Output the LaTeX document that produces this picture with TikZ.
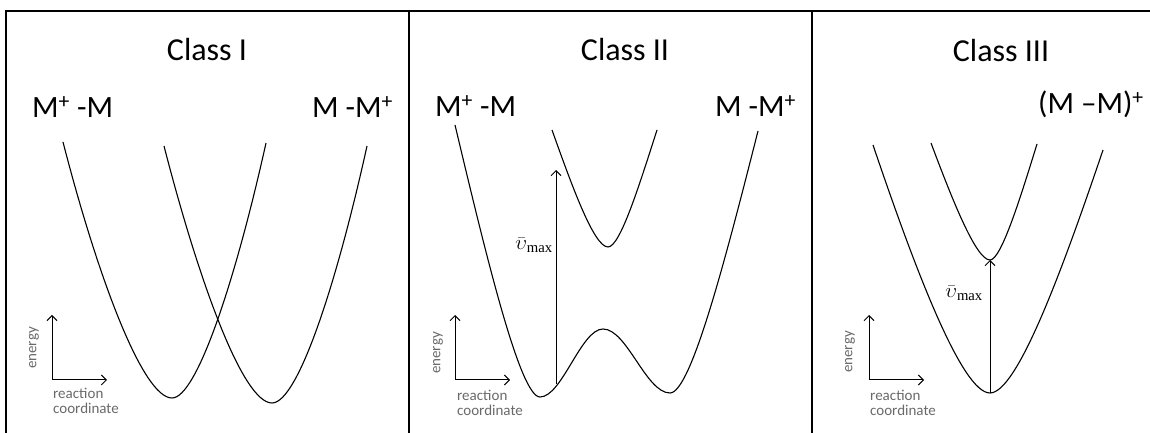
\documentclass[tikz,border=0pt]{standalone}
\usepackage{fontspec}
\setmainfont{Carlito}
\newfontfamily\vserif{Liberation Serif}
\usetikzlibrary{arrows.meta, positioning}
\definecolor{axisgray}{RGB}{105,105,105}

\begin{document}
\begin{tikzpicture}[
      x=1pt, y=1pt,
      title/.style={font=\fontsize{32}{36}\selectfont, anchor=base, inner sep=0pt},
      species/.style={font=\fontsize{31}{36}\selectfont, anchor=base west, inner sep=0pt},
      axlabel/.style={font=\fontsize{15}{15}\selectfont, color=axisgray, align=left, inner sep=0pt},
      vlabel/.style={font=\fontsize{21}{24}\selectfont, anchor=east, inner sep=1pt},
      curve/.style={line width=1.1pt},
      arr/.style={-{Straight Barb[length=5pt, width=10pt]}, line width=1pt},
      frame/.style={line width=1.2pt}
  ]
    \useasboundingbox (0,0) rectangle (1150,433);

    % frame and panel dividers
    \coordinate (tl) at (6,422);
    \coordinate (tr) at (1150,422);
    \draw[frame] (6,0) -- (tl) -- (tr);
    \draw[frame] (409,0) -- (409,422);
    \draw[frame] (812,0) -- (812,422);

    % Class I
    \node[title]   (titleI) at (207,372) {Class I};
    \node[species] (leftI)  at (32,315)  {M\textsuperscript{+} -M};
    \node[species] (rightI) at (312,315) {M -M\textsuperscript{+}};
    \draw[curve] (63,291) .. controls +(35,-136) and +(-29,0) .. (172,35)
                          .. controls +(25,0) and +(-30,-135) .. (266,290);
    \draw[curve] (164,287) .. controls +(35,-136) and +(-29,0) .. (272,30)
                           .. controls +(26,0) and +(-30,-136) .. (367,287);
    \coordinate (oI) at (52,53);
    \draw[arr] (oI) -- ++(0,65) coordinate (eI);
    \draw[arr] (oI) -- ++(55,0) coordinate (rI);
    \node[axlabel, rotate=90] (energyI) at (34,85) {energy};
    \node[axlabel, anchor=north west] (coordI) at (53,45) {reaction\\coordinate};

    % Class II
    \node[title]   (titleII) at (625,372) {Class II};
    \node[species] (leftII)  at (435,316) {M\textsuperscript{+} -M};
    \node[species] (rightII) at (715,316) {M -M\textsuperscript{+}};
    \draw[curve] (455,308) .. controls +(31,-130) and +(-20,0) .. (540,36)
                           .. controls +(22,0) and +(-22,0) .. (603,104)
                           .. controls +(24,0) and +(-24,0) .. (670,40)
                           .. controls +(21,0) and +(-32,-126) .. (758,302);
    \draw[curve] (552,303) .. controls +(20,-56) and +(-14,0) .. (608,186)
                           .. controls +(12,0) and +(-18,-56) .. (657,303);
    \coordinate (lowII) at (556,49);
    \coordinate (upII)  at (556,263);
    \draw[arr] (lowII) -- (upII);
    \node[vlabel] (vmaxII) at (554,188) {\vserif$\bar{\upsilon}$\textsubscript{max}};
    \coordinate (oII) at (455,53);
    \draw[arr] (oII) -- ++(0,65) coordinate (eII);
    \draw[arr] (oII) -- ++(55,0) coordinate (rII);
    \node[axlabel, rotate=90] (energyII) at (438,80) {energy};
    \node[axlabel, anchor=north west] (coordII) at (457,43) {reaction\\coordinate};

    % Class III
    \node[title]   (titleIII) at (1001,371) {Class III};
    \node[species] (pairIII)  at (1038,319) {(M --M)\textsuperscript{+}};
    \draw[curve] (873,288) .. controls +(42,-124) and +(-28,0) .. (990,40)
                           .. controls +(27,0) and +(-41,-121) .. (1103,283);
    \draw[curve] (931,290) .. controls +(21,-56) and +(-14,0) .. (990,173)
                           .. controls +(11,0) and +(-17,-55) .. (1037,289);
    \coordinate (lowIII) at (990,40);
    \coordinate (upIII)  at (990,173);
    \draw[arr] (lowIII) -- (upIII);
    \node[vlabel] (vmaxIII) at (984,140) {\vserif$\bar{\upsilon}$\textsubscript{max}};
    \coordinate (oIII) at (869,53);
    \draw[arr] (oIII) -- ++(0,65) coordinate (eIII);
    \draw[arr] (oIII) -- ++(55,0) coordinate (rIII);
    \node[axlabel, rotate=90] (energyIII) at (850,81) {energy};
    \node[axlabel, anchor=north west] (coordIII) at (870,43) {reaction\\coordinate};
  \end{tikzpicture}
\end{document}
